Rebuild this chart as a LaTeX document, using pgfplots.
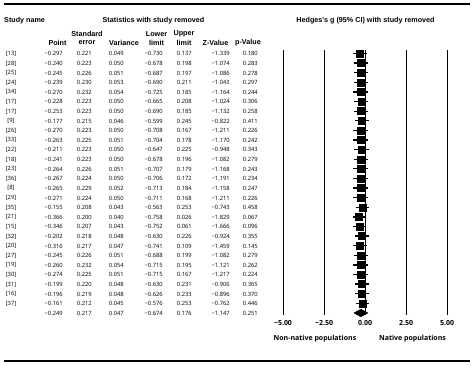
\documentclass[border=0pt]{standalone}
\usepackage{fontspec}
\setmainfont{Open Sans}
\newfontfamily\arialf{Liberation Sans}
\usepackage{pgfplots}
\usepackage{pgfplotstable}
\pgfplotsset{compat=1.18}

\pgfplotstableread{
id point se var lower upper z p
[13] -0.297 0.221 0.049 -0.730 0.137 -1.339 0.180
[28] -0.240 0.223 0.050 -0.678 0.198 -1.074 0.283
[25] -0.245 0.226 0.051 -0.687 0.197 -1.086 0.278
[24] -0.239 0.230 0.053 -0.690 0.211 -1.043 0.297
[34] -0.270 0.232 0.054 -0.725 0.185 -1.164 0.244
[17] -0.228 0.223 0.050 -0.665 0.208 -1.024 0.306
[17] -0.253 0.223 0.050 -0.690 0.185 -1.132 0.258
[9] -0.177 0.215 0.046 -0.599 0.245 -0.822 0.411
[26] -0.270 0.223 0.050 -0.708 0.167 -1.211 0.226
[33] -0.263 0.225 0.051 -0.704 0.178 -1.170 0.242
[22] -0.211 0.223 0.050 -0.647 0.225 -0.948 0.343
[18] -0.241 0.223 0.050 -0.678 0.196 -1.082 0.279
[23] -0.264 0.226 0.051 -0.707 0.179 -1.168 0.243
[36] -0.267 0.224 0.050 -0.706 0.172 -1.191 0.234
[8] -0.265 0.229 0.052 -0.713 0.184 -1.158 0.247
[29] -0.271 0.224 0.050 -0.711 0.168 -1.211 0.226
[35] -0.155 0.208 0.043 -0.563 0.253 -0.743 0.458
[21] -0.366 0.200 0.040 -0.758 0.026 -1.829 0.067
[15] -0.346 0.207 0.043 -0.752 0.061 -1.666 0.096
[32] -0.202 0.218 0.048 -0.630 0.226 -0.924 0.355
[20] -0.316 0.217 0.047 -0.741 0.109 -1.459 0.145
[27] -0.245 0.226 0.051 -0.688 0.199 -1.082 0.279
[19] -0.260 0.232 0.054 -0.715 0.195 -1.121 0.262
[30] -0.274 0.225 0.051 -0.715 0.167 -1.217 0.224
[31] -0.199 0.220 0.048 -0.630 0.231 -0.906 0.365
[16] -0.196 0.219 0.048 -0.626 0.233 -0.896 0.370
[37] -0.161 0.212 0.045 -0.576 0.253 -0.762 0.446
Total -0.249 0.217 0.047 -0.674 0.176 -1.147 0.251
}\data

\def\mm#1{\expandafter\mmi#1\relax}
\def\mmi#1#2\relax{\if#1-−#2\else#1#2\fi}
\newcommand\hf{\arialf\bfseries\fontsize{7.2}{8.5}\selectfont}
\newcommand\nf{\fontsize{5.8}{7}\selectfont}
\newcommand\tf{\bfseries\fontsize{7}{8}\selectfont}

\begin{document}
\begin{tikzpicture}[x=1pt,y=1pt]
\path[use as bounding box] (0,2) rectangle (474,-364);
\node[anchor=west,inner sep=0,font=\hf] at (4,-19) {Study name};
\node[inner sep=0,font=\hf] at (153.5,-19) {Statistics with study removed};
\node[inner sep=0,font=\hf] at (365.5,-19) {Hedges's g (95\% CI) with study removed};
\foreach \t/\xx in {Point/57.5, Variance/124, Z-Value/215.5, p-Value/248}
  \node[inner sep=0,font=\hf] at (\xx,-41) {\t};
\foreach \t/\b/\xx in {Standard/error/87, Lower/limit/156.5, Upper/limit/184}{
  \node[inner sep=0,font=\hf] at (\xx,-32) {\t};
  \node[inner sep=0,font=\hf] at (\xx,-41) {\b};
}
\foreach \i in {0,...,27}{
  \ifnum\i<27
    \pgfplotstablegetelem{\i}{id}\of\data
    \node[inner sep=0,font=\nf] at (11,{-(51.8+9.61*\i)}) {\pgfplotsretval};
  \fi
  \foreach \col/\xx in {point/63, se/92, var/124, lower/163, upper/192, z/230, p/258}{
    \pgfplotstablegetelem{\i}{\col}\of\data
    \node[anchor=east,inner sep=0,font=\nf] at (\xx,{-(51.8+9.61*\i)}) {\mm\pgfplotsretval};
  }
}
\node[inner sep=0,font=\tf] at (315,-337) {Non-native populations};
\node[inner sep=0,font=\tf] at (412.5,-337) {Native populations};
\begin{axis}[at={(283pt,-48pt)}, anchor=north west, width=164pt, height=265pt,
  scale only axis, xmin=-5, xmax=5, ymin=-28.21, ymax=-0.636,
  axis y line=none, axis x line=bottom, x axis line style={draw=none},
  xtick={-5,-2.5,0,2.5,5}, xticklabels={−5.00,−2.50,0.00,2.50,5.00},
  major tick length=0pt, xmajorgrids, grid style={black, line width=1pt},
  xticklabel style={font=\tf, yshift=-1.5pt}, clip=false]
\addplot[only marks, mark=square*, mark size=3.5pt, black,
  skip coords between index={27}{28},
  error bars/.cd, x dir=both, x explicit, error mark=none,
  error bar style={line width=1.3pt}]
  table[x=point, y expr=-\coordindex-1,
        x error plus expr=\thisrow{upper}-\thisrow{point},
        x error minus expr=\thisrow{point}-\thisrow{lower}] {\data};
\addplot[black, fill=black] coordinates {(-0.674,-28) (-0.249,-27.6) (0.176,-28) (-0.249,-28.4)} --cycle;
\end{axis}
\fill[black] (4,-0.8) rectangle (470,-3.0);
\fill[black] (4,-358.2) rectangle (470,-359.8);
\end{tikzpicture}
\end{document}
